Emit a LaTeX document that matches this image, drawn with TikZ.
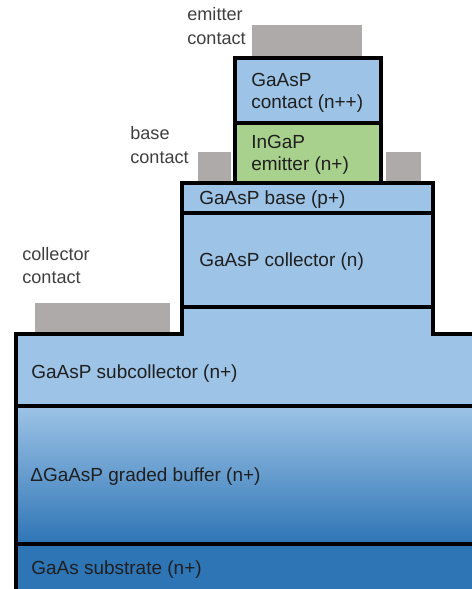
\documentclass[tikz,border=0pt]{standalone}
\usepackage{fontspec}
\setmainfont{Liberation Sans}
\definecolor{layerblue}{HTML}{9DC3E6}
\definecolor{deepblue}{HTML}{2E75B6}
\definecolor{emitgreen}{HTML}{A9D18E}
\definecolor{padgray}{HTML}{AEAAAA}
\definecolor{labelgray}{HTML}{3F3F3F}

\begin{document}
\begin{tikzpicture}[
  x=0.02cm,
  y=-0.02cm,
  edge/.style={
    draw=black,
    line width=1.8pt
  },
  pad/.style={
    fill=padgray
  },
  side/.style={
    anchor=west,
    inner sep=0pt,
    align=left,
    text=labelgray,
    font=\fontsize{10.3}{13.6}\selectfont
  },
  inlayer/.style={
    anchor=west,
    inner sep=0pt,
    align=left,
    text=black!88,
    font=\fontsize{10.8}{12.6}\selectfont
  }
]

\useasboundingbox (0,0) rectangle (471,589);

% metal pads
\fill[pad] (252,25) rectangle (362,58);
\fill[pad] (198,152) rectangle (231,183);
\fill[pad] (386,152) rectangle (421,183);
\fill[pad] (35,303) rectangle (170,334);

% lower stack
\fill[deepblue] (16,544) rectangle (480,600);
\shade[top color=layerblue,middle color=layerblue!75!deepblue,bottom color=deepblue]
  (16,406) rectangle (480,544);
\fill[layerblue]
  (16,406) -- (16,334) -- (182,334) -- (182,307)
  -- (433,307) -- (433,334) -- (480,334) -- (480,406) -- cycle;

% mesa layers
\filldraw[edge,fill=layerblue] (182,213) rectangle (433,307);
\filldraw[edge,fill=layerblue] (182,183) rectangle (433,213);
\filldraw[edge,fill=emitgreen] (235,123) rectangle (381,183);
\filldraw[edge,fill=layerblue] (235,58) rectangle (381,123);

\draw[edge] (16,600) -- (16,334) -- (182,334) -- (182,307);
\draw[edge] (433,307) -- (433,334) -- (480,334);
\draw[edge] (16,406) -- (480,406);
\draw[edge] (16,544) -- (480,544);

% contact labels
\node[side] (emlbl) at (187,26) {emitter\\contact};
\node[side] (baselbl) at (130,145) {base\\contact};
\node[side] (colllbl) at (22,265.5) {collector\\contact};

% layer labels
\node[inlayer] (cap) at (251,92.5) {GaAsP\\contact (n++)};
\node[inlayer] (emit) at (251,155) {InGaP\\emitter (n+)};
\node[inlayer] (base) at (199,199.5) {GaAsP base (p+)};
\node[inlayer] (coll) at (199,261.5) {GaAsP collector (n)};
\node[inlayer] (subcoll) at (31,373.5) {GaAsP subcollector (n+)};
\node[inlayer] (buffer) at (30,476.5) {ΔGaAsP graded buffer (n+)};
\node[inlayer] (subs) at (31,569.5) {GaAs substrate (n+)};

\end{tikzpicture}
\end{document}
